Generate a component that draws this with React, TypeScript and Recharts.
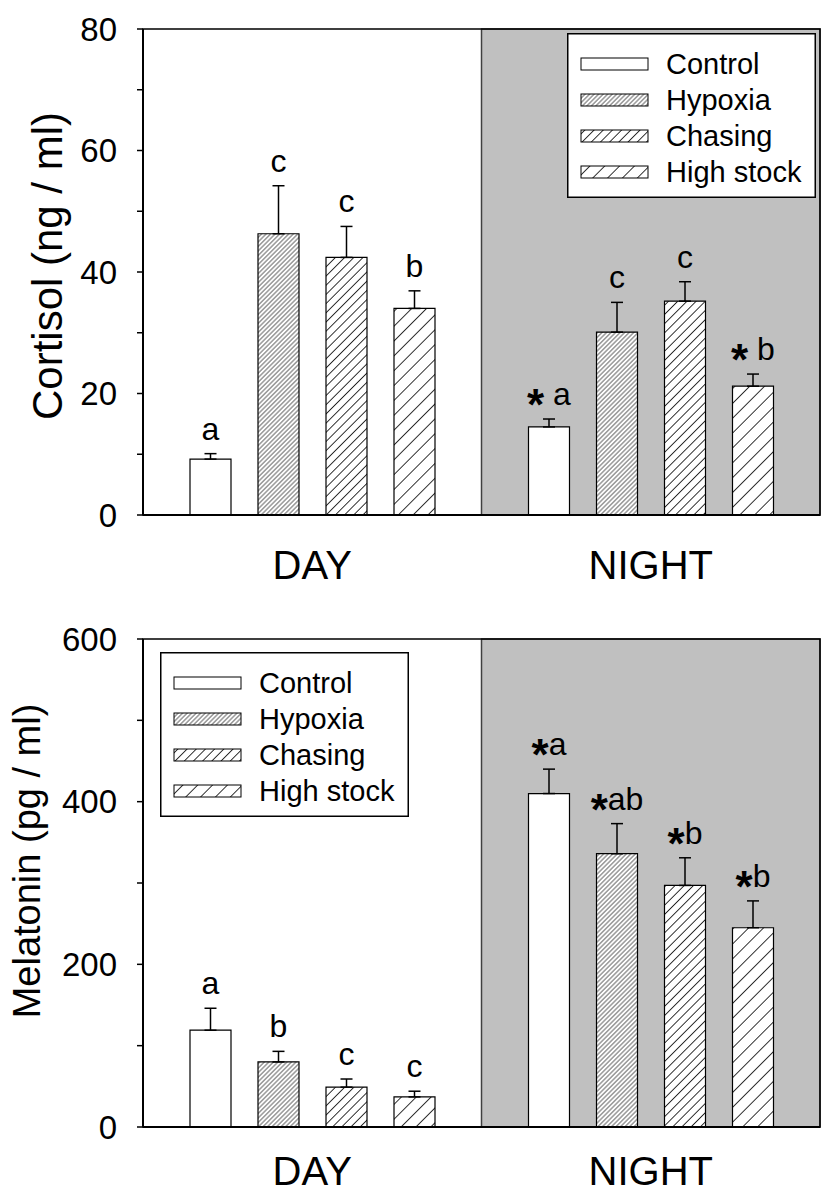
import React from 'react';
import { BarChart, Bar, XAxis, YAxis, ErrorBar, LabelList, ReferenceArea, Legend } from 'recharts';

const FONT = '"Liberation Sans", Arial, Helvetica, sans-serif';

// ---------- data ----------
const periods = ['DAY', 'NIGHT'];
const seriesNames = ['Control', 'Hypoxia', 'Chasing', 'High stock'];
const seriesKeys = ['control', 'hypoxia', 'chasing', 'highStock'];

// Cortisol (ng / ml), [DAY, NIGHT]
const cortisolControl = [9.2, 14.5];
const cortisolHypoxia = [46.3, 30.1];
const cortisolChasing = [42.4, 35.2];
const cortisolHighStock = [34.0, 21.2];
const cortisolControlErr = [0.9, 1.3];
const cortisolHypoxiaErr = [7.9, 4.9];
const cortisolChasingErr = [5.1, 3.2];
const cortisolHighStockErr = [2.9, 2.0];
const cortisolControlLetters = ['a', '* a'];
const cortisolHypoxiaLetters = ['c', 'c'];
const cortisolChasingLetters = ['c', 'c'];
const cortisolHighStockLetters = ['b', '* b'];
const cortisolTicks = [0, 10, 20, 30, 40, 50, 60, 70, 80];

// Melatonin (pg / ml), [DAY, NIGHT]
const melatoninControl = [119, 410];
const melatoninHypoxia = [80, 336];
const melatoninChasing = [49, 297];
const melatoninHighStock = [37, 245];
const melatoninControlErr = [27, 30];
const melatoninHypoxiaErr = [13, 37];
const melatoninChasingErr = [10, 34];
const melatoninHighStockErr = [7, 33];
const melatoninControlLetters = ['a', '*a'];
const melatoninHypoxiaLetters = ['b', '*ab'];
const melatoninChasingLetters = ['c', '*b'];
const melatoninHighStockLetters = ['c', '*b'];
const melatoninTicks = [0, 100, 200, 300, 400, 500, 600];

// ---------- styles ----------
const hatchSpacing: Record<string, number> = { hypoxia: 3.2, chasing: 6.5, highStock: 10.5 };
const hatchWidth: Record<string, number> = { hypoxia: 0.6, chasing: 0.8, highStock: 0.8 };

function buildRows(means: number[][], errs: number[][]) {
  return periods.map((p, i) => {
    const row: any = { period: p };
    seriesKeys.forEach((k, j) => {
      row[k] = means[j][i];
      row[k + 'Err'] = [0, errs[j][i]];
    });
    return row;
  });
}

const Patterns = ({ p }: { p: string }) => (
  <defs>
    {Object.keys(hatchSpacing).map((k) => {
      const s = hatchSpacing[k];
      return (
        <pattern
          id={`${p}-${k}`}
          key={k}
          patternUnits="userSpaceOnUse"
          width={s}
          height={s}
          patternTransform="rotate(45)"
        >
          <rect width={s} height={s} fill="#fff" />
          <line x1={s / 2} y1={0} x2={s / 2} y2={s} stroke="#000" strokeWidth={hatchWidth[k]} />
        </pattern>
      );
    })}
  </defs>
);

const fillFor = (p: string, k: string) => (k === 'control' ? '#fff' : `url(#${p}-${k})`);

const LegendBox = ({ p }: { p: string }) => (
  <svg width={249} height={165} style={{ display: 'block' }}>
    <Patterns p={p} />
    <rect x={0.75} y={0.75} width={247.5} height={163.5} fill="#fff" stroke="#000" strokeWidth={1.5} />
    {seriesNames.map((n, i) => (
      <g key={n}>
        <rect x={14} y={25 + 36 * i} width={67} height={12} fill={fillFor(p, seriesKeys[i])} stroke="#000" strokeWidth={1} />
        <text x={99} y={31 + 36 * i} dominantBaseline="central" fontSize={29} fill="#000" fontFamily={FONT}>
          {n}
        </text>
      </g>
    ))}
  </svg>
);

const makeLabel = (means: number[], letters: string[], errs: number[]) => (props: any) => {
  const vb = props.viewBox && props.viewBox.width !== undefined ? props.viewBox : props;
  const { x, y, width, height } = vb;
  const value = props.value;
  let idx = props.index;
  if (idx == null) idx = means.indexOf(value);
  const pxPerUnit = height / value;
  const top = y - errs[idx] * pxPerUnit;
  const txt: string = letters[idx];
  const cx = x + width / 2;
  const ty = top - 14;
  if (txt.startsWith('*')) {
    return (
      <text x={cx} y={ty} textAnchor="middle" fontSize={32} fill="#000" fontFamily={FONT}>
        <tspan fontSize={44} fontWeight="bold" dy={15}>*</tspan>
        <tspan dy={-15}>{txt.slice(1)}</tspan>
      </text>
    );
  }
  return (
    <text x={cx} y={ty} textAnchor="middle" fontSize={32} fill="#000" fontFamily={FONT}>
      {txt}
    </text>
  );
};

type PanelProps = {
  prefix: string;
  height: number;
  marginTop: number;
  xAxisHeight: number;
  tickMarginX: number;
  means: number[][];
  errs: number[][];
  letters: string[][];
  ticks: number[];
  major: number;
  yLabel: string;
  yLabelX: number;
  yLabelSize: number;
  yLabelShift: number;
  legendPos: { left: number; top: number };
};

const Panel = (pp: PanelProps) => {
  const data = buildRows(pp.means, pp.errs);
  const max = pp.ticks[pp.ticks.length - 1];
  return (
    <BarChart
      width={826}
      height={pp.height}
      data={data}
      margin={{ top: pp.marginTop, right: 6, left: 0, bottom: 0 }}
      barSize={41}
      barGap={27}
    >
      <Patterns p={pp.prefix} />
      <ReferenceArea x1="NIGHT" x2="NIGHT" y1={0} y2={max} fill="#c0c0c0" fillOpacity={1} stroke="#404040" strokeWidth={1.5} />
      <ReferenceArea x1="DAY" x2="NIGHT" y1={0} y2={max} fill="none" stroke="#000" strokeWidth={1.5} />
      <XAxis
        dataKey="period"
        height={pp.xAxisHeight}
        tickLine={false}
        tickSize={0}
        tickMargin={pp.tickMarginX}
        interval={0}
        axisLine={{ stroke: '#000', strokeWidth: 2 }}
        tick={{ fontSize: 40, fill: '#000', fontFamily: FONT }}
      />
      <YAxis
        width={143}
        domain={[0, max]}
        ticks={pp.ticks}
        interval={0}
        tickFormatter={(v: number) => (v % pp.major === 0 ? String(v) : '')}
        tickSize={6}
        tickMargin={20}
        tickLine={{ stroke: '#000', strokeWidth: 1.5 }}
        axisLine={{ stroke: '#000', strokeWidth: 2 }}
        tick={{ fontSize: 33, fill: '#000', fontFamily: FONT }}
        label={{
          content: (lp: any) => {
            const vb = lp.viewBox || { y: 0, height: 0 };
            const cy = vb.y + vb.height / 2 + pp.yLabelShift;
            return (
              <text
                x={pp.yLabelX}
                y={cy}
                transform={`rotate(-90, ${pp.yLabelX}, ${cy})`}
                textAnchor="middle"
                fontSize={pp.yLabelSize}
                fill="#000"
                fontFamily={FONT}
              >
                {pp.yLabel}
              </text>
            );
          },
        }}
      />
      <Legend
        layout="horizontal"
        verticalAlign="middle"
        align="center"
        wrapperStyle={{ left: pp.legendPos.left, top: pp.legendPos.top, width: 249, height: 165 }}
        content={() => <LegendBox p={pp.prefix + 'L'} />}
      />
      {seriesKeys.map((k, j) => (
        <Bar
          key={k}
          dataKey={k}
          name={seriesNames[j]}
          fill={fillFor(pp.prefix, k)}
          stroke="#000"
          strokeWidth={1.2}
          isAnimationActive={false}
        >
          <ErrorBar dataKey={k + 'Err'} width={6} stroke="#000" strokeWidth={1.5} direction="y" />
          <LabelList dataKey={k} content={makeLabel(pp.means[j], pp.letters[j], pp.errs[j])} />
        </Bar>
      ))}
    </BarChart>
  );
};

export default function App() {
  return (
    <div style={{ position: 'absolute', left: 0, top: 0, width: 826, height: 1202, background: '#fff', fontFamily: FONT }}>
      <div style={{ position: 'absolute', left: 0, top: 0 }}>
        <Panel
          prefix="cort"
          height={600}
          marginTop={29}
          xAxisHeight={85}
          tickMarginX={36}
          means={[cortisolControl, cortisolHypoxia, cortisolChasing, cortisolHighStock]}
          errs={[cortisolControlErr, cortisolHypoxiaErr, cortisolChasingErr, cortisolHighStockErr]}
          letters={[cortisolControlLetters, cortisolHypoxiaLetters, cortisolChasingLetters, cortisolHighStockLetters]}
          ticks={cortisolTicks}
          major={20}
          yLabel="Cortisol (ng / ml)"
          yLabelX={62}
          yLabelSize={42}
          yLabelShift={-6}
          legendPos={{ left: 567, top: 33 }}
        />
      </div>
      <div style={{ position: 'absolute', left: 0, top: 600 }}>
        <Panel
          prefix="mel"
          height={602}
          marginTop={39}
          xAxisHeight={75}
          tickMarginX={30}
          means={[melatoninControl, melatoninHypoxia, melatoninChasing, melatoninHighStock]}
          errs={[melatoninControlErr, melatoninHypoxiaErr, melatoninChasingErr, melatoninHighStockErr]}
          letters={[melatoninControlLetters, melatoninHypoxiaLetters, melatoninChasingLetters, melatoninHighStockLetters]}
          ticks={melatoninTicks}
          major={200}
          yLabel="Melatonin (pg / ml)"
          yLabelX={40}
          yLabelSize={38}
          yLabelShift={-22}
          legendPos={{ left: 160, top: 52 }}
        />
      </div>
    </div>
  );
}
